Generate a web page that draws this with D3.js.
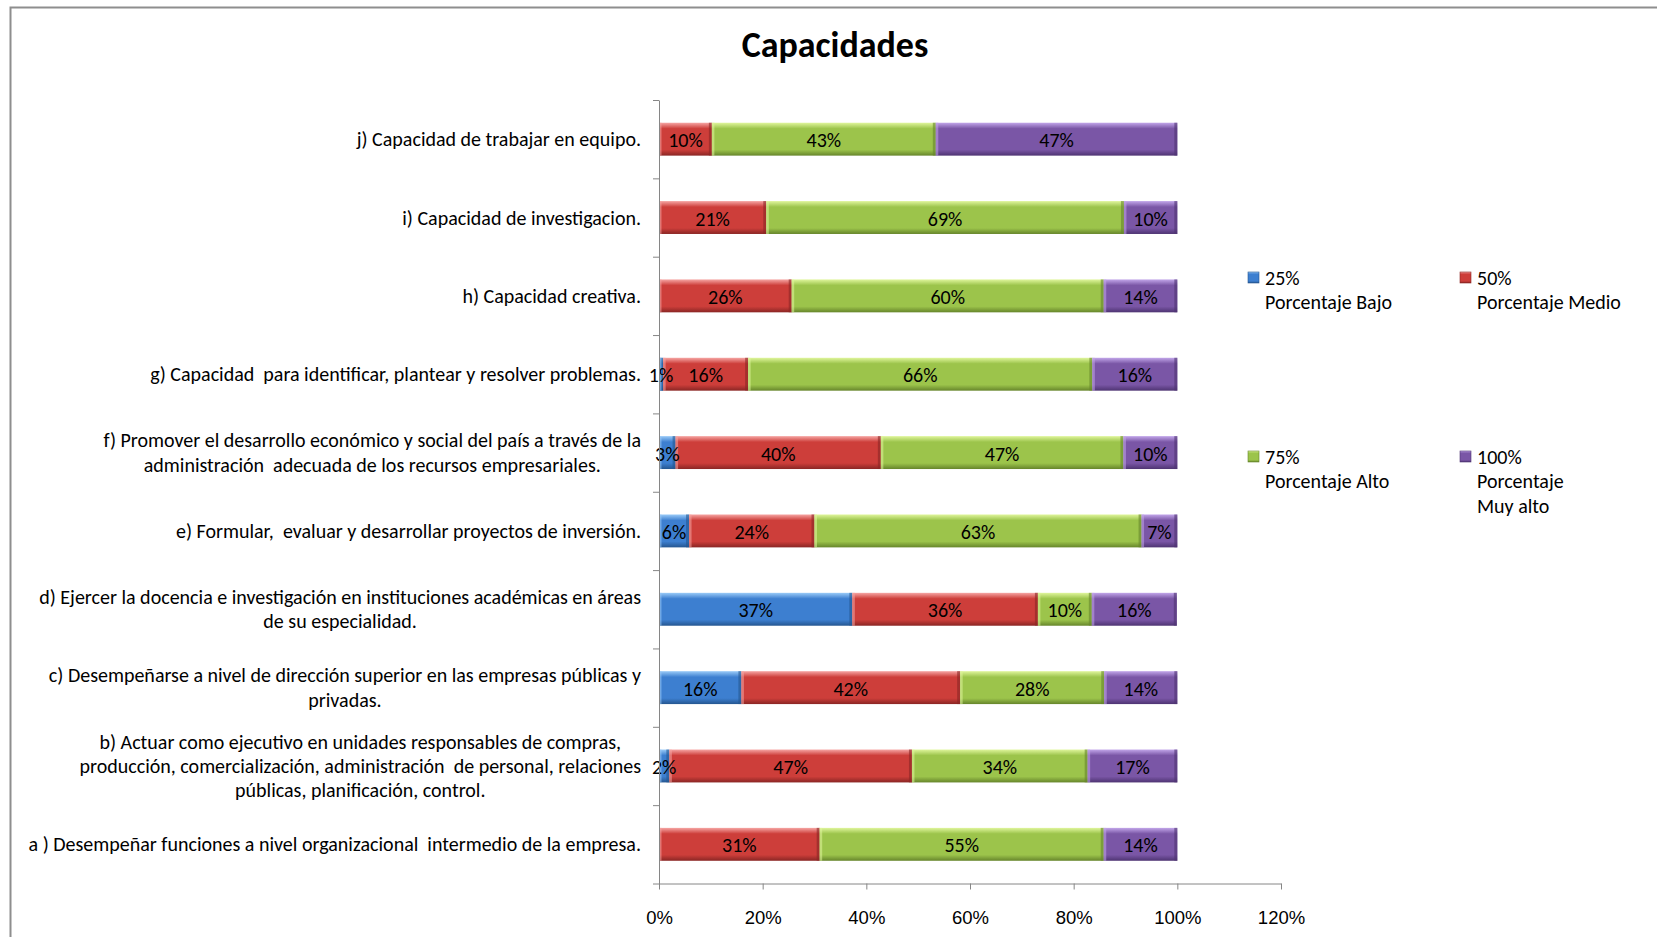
<!DOCTYPE html>
<html><head><meta charset="utf-8">
<script src="https://cdn.jsdelivr.net/npm/d3@7/dist/d3.min.js"></script>
<style>
html,body{margin:0;padding:0;background:#fff;}
svg{display:block;font-family:Carlito,Lato,"Open Sans",sans-serif;}
</style></head>
<body>
<svg id="chart" width="1657" height="937"></svg>
<script>
// ---- data ----
const categories = ["a","b","c","d","e","f","g","h","i","j"];
const categoryLabels = [
  ["a ) Desempeñar funciones a nivel organizacional  intermedio de la empresa."],
  ["b) Actuar como ejecutivo en unidades responsables de compras,","producción, comercialización, administración  de personal, relaciones","públicas, planificación, control."],
  ["c) Desempeñarse a nivel de dirección superior en las empresas públicas y","privadas."],
  ["d) Ejercer la docencia e investigación en instituciones académicas en áreas","de su especialidad."],
  ["e) Formular,  evaluar y desarrollar proyectos de inversión."],
  ["f) Promover el desarrollo económico y social del país a través de la","administración  adecuada de los recursos empresariales."],
  ["g) Capacidad  para identificar, plantear y resolver problemas."],
  ["h) Capacidad creativa."],
  ["i) Capacidad de investigacion."],
  ["j) Capacidad de trabajar en equipo."]
];
const seriesKeys = ["bajo","medio","alto","muyAlto"];
const bajo    = [0,   2.0, 15.9, 37.3, 5.8, 3.2, 0.8, 0,    0,    0];
const medio   = [31.0,46.8,42.2, 35.8, 24.2,39.6,16.4,25.6, 20.7, 10.2];
const alto    = [54.8,33.9,27.8, 10.4, 63.1,46.8,66.4,60.2, 69.0, 43.2];
const muyAlto = [14.2,17.3,14.1, 16.4, 6.9, 10.4,16.4,14.2, 10.3, 46.6];
const legendLabels = [["25%","Porcentaje Bajo"],["50%","Porcentaje Medio"],["75%","Porcentaje Alto"],["100%","Porcentaje","Muy alto"]];
const xTicks = [0,0.2,0.4,0.6,0.8,1.0,1.2];
const title = "Capacidades";

const seriesColors = {
  bajo:    {base:"#3d7fd0", light:"#9acbf8", dark:"#255690"},
  medio:   {base:"#cd3e3a", light:"#f6a6a4", dark:"#8a2624"},
  alto:    {base:"#9cc44b", light:"#e0f69c", dark:"#66852b"},
  muyAlto: {base:"#7a56a6", light:"#c2a6ea", dark:"#4e3472"}
};

const svg = d3.select("#chart");
const defs = svg.append("defs");
seriesKeys.forEach(k=>{
  const c = seriesColors[k];
  const g = defs.append("linearGradient").attr("id","g-"+k).attr("x1",0).attr("y1",0).attr("x2",0).attr("y2",1);
  [[0,c.light],[0.18,c.base],[0.82,c.base],[1,c.dark]].forEach(([o,col])=>g.append("stop").attr("offset",o).attr("stop-color",col));
});

// frame
svg.append("path").attr("d","M10.5,937 V7.5 H1657").attr("fill","none").attr("stroke","#8e8e8e").attr("stroke-width",2);

// title
svg.append("text").attr("x",835).attr("y",57).attr("text-anchor","middle")
  .attr("font-size",36).attr("font-weight","bold").attr("fill","#000").text(title);

const plotTop = 100, plotBottom = 883.5, x0 = 659, x1 = 1281;
const x = d3.scaleLinear().domain([0,1.2]).range([x0,x1]);
const y = d3.scaleBand().domain(categories.slice().reverse()).range([plotTop,plotBottom]).paddingInner(0.58).paddingOuter(0.29);

const table = categories.map((c,i)=>({cat:c, bajo:bajo[i]/100, medio:medio[i]/100, alto:alto[i]/100, muyAlto:muyAlto[i]/100}));
const stacked = d3.stack().keys(seriesKeys)(table);

// bars
const layers = svg.append("g").selectAll("g").data(stacked).join("g").attr("fill",d=>"url(#g-"+d.key+")");
layers.selectAll("rect").data(d=>d.filter(s=>s[1]-s[0]>0)).join("rect")
  .attr("x",d=>x(d[0])).attr("width",d=>x(d[1])-x(d[0]))
  .attr("y",d=>y(d.data.cat)).attr("height",y.bandwidth());
// edge shading for bevel look
layers.each(function(s){
  const key = s.key, c = seriesColors[key];
  const g = d3.select(this);
  g.selectAll("rect.edgeR").data(s.filter(v=>v[1]-v[0]>0)).join("rect").attr("class","edgeR")
    .attr("x",d=>x(d[1])-3).attr("width",3).attr("y",d=>y(d.data.cat)).attr("height",y.bandwidth())
    .attr("fill",c.dark).attr("opacity",0.6);
  g.selectAll("rect.edgeL").data(s.filter(v=>v[1]-v[0]>0)).join("rect").attr("class","edgeL")
    .attr("x",d=>x(d[0])).attr("width",2.5).attr("y",d=>y(d.data.cat)).attr("height",y.bandwidth())
    .attr("fill",c.light).attr("opacity",0.55);
});

// value labels
stacked.forEach(s=>{
  svg.append("g").selectAll("text").data(s.filter(v=>v[1]-v[0]>0)).join("text")
    .attr("x",d=>(x(d[0])+x(d[1]))/2).attr("y",d=>y(d.data.cat)+y.bandwidth()/2+8)
    .attr("text-anchor","middle").attr("font-size",20).attr("fill","#000")
    .text(d=>Math.round((d[1]-d[0])*100)+"%");
});

// x axis
const xAxis = d3.axisBottom(x).tickValues(xTicks).tickFormat(d3.format(".0%")).tickSize(6).tickSizeOuter(0).tickPadding(21);
const gx = svg.append("g").attr("transform",`translate(0,${plotBottom})`).call(xAxis);
gx.select(".domain").attr("stroke","#868686");
gx.selectAll(".tick line").attr("stroke","#868686");
gx.selectAll(".tick text").attr("font-size",18.5).attr("fill","#000").attr("font-family",null);

// y axis (ticks between categories)
const yLin = d3.scaleLinear().domain([0,categories.length]).range([plotBottom,plotTop]);
const gy = svg.append("g").attr("transform",`translate(${x0},0)`)
  .call(d3.axisLeft(yLin).ticks(categories.length).tickFormat("").tickSize(6).tickSizeOuter(0));
gy.select(".domain").attr("stroke","#868686");
gy.selectAll(".tick line").attr("stroke","#868686");

// category labels
const labelRight = 641, lineH = 24.3;
categories.forEach((c,i)=>{
  const lines = categoryLabels[i];
  const cy = y(c)+y.bandwidth()/2;
  const t = svg.append("text").attr("font-size",20).attr("fill","#000").attr("text-anchor","middle").attr("xml:space","preserve");
  lines.forEach((l,j)=>{
    t.append("tspan").attr("y",cy+7+(j-(lines.length-1)/2)*lineH).text(l);
  });
  let maxW = 0;
  t.selectAll("tspan").each(function(){maxW=Math.max(maxW,this.getComputedTextLength());});
  t.selectAll("tspan").attr("x",labelRight-maxW/2);
});

// legend
const legendPos = [[1253,283],[1465,283],[1253,462],[1465,462]];
seriesKeys.forEach((k,i)=>{
  const [lx,ly] = legendPos[i];
  svg.append("rect").attr("x",lx-5).attr("y",ly-11).attr("width",11).attr("height",11).attr("fill","url(#g-"+k+")")
    .attr("stroke",seriesColors[k].dark).attr("stroke-width",0.6);
  const t = svg.append("text").attr("font-size",20).attr("fill","#000");
  legendLabels[i].forEach((l,j)=>t.append("tspan").attr("x",lx+12).attr("y",ly+2+j*24.3).text(l));
});
</script>
</body></html>
